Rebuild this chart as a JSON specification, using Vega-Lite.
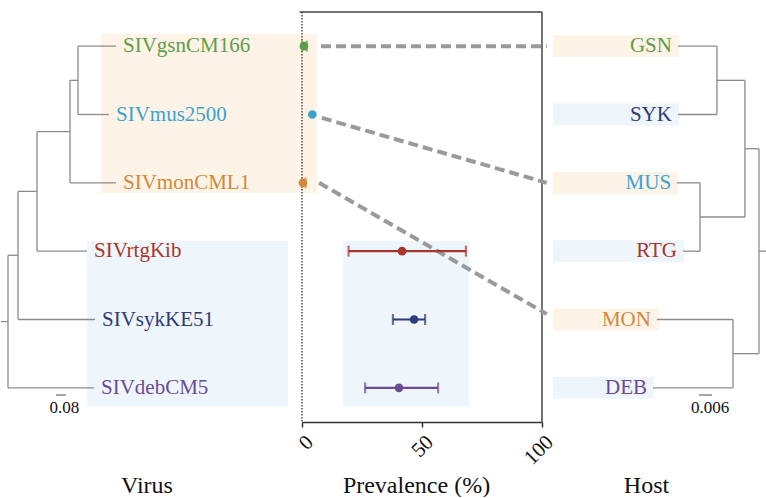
{
  "$schema": "https://vega.github.io/schema/vega-lite/v6.json",
  "padding": {"left": 0, "top": 11, "right": 0, "bottom": 0},
  "spacing": 0,
  "bounds": "flush",
  "config": {
    "view": {"stroke": null},
    "text": {"font": "Liberation Serif"},
    "axis": {"grid": false, "labelFont": "Liberation Serif", "titleFont": "Liberation Serif", "titleFontWeight": "normal", "titleFontSize": 24, "titleColor": "#111", "labelColor": "#111", "titleBaseline": "alphabetic", "titleY": 70, "titleAlign": "center"}
  },
  "datasets": {
    "virus": [
      {"name": "SIVgsnCM166", "host": "GSN", "y": 0, "x": 0.92},
      {"name": "SIVmus2500", "host": "MUS", "y": 1, "x": 0.864},
      {"name": "SIVmonCML1", "host": "MON", "y": 2, "x": 0.92},
      {"name": "SIVrtgKib", "host": "RTG", "y": 3, "x": 0.688},
      {"name": "SIVsykKE51", "host": "SYK", "y": 4, "x": 0.752},
      {"name": "SIVdebCM5", "host": "DEB", "y": 5, "x": 0.744}
    ],
    "leftTree": [
      {"x": 0, "x2": 0.056, "y": 4.03, "y2": 4.03},
      {"x": 0.056, "x2": 0.056, "y": 3.06, "y2": 5},
      {"x": 0.056, "x2": 0.744, "y": 5, "y2": 5},
      {"x": 0.056, "x2": 0.136, "y": 3.06, "y2": 3.06},
      {"x": 0.136, "x2": 0.136, "y": 2.125, "y2": 4},
      {"x": 0.136, "x2": 0.752, "y": 4, "y2": 4},
      {"x": 0.136, "x2": 0.288, "y": 2.125, "y2": 2.125},
      {"x": 0.288, "x2": 0.288, "y": 1.25, "y2": 3},
      {"x": 0.288, "x2": 0.688, "y": 3, "y2": 3},
      {"x": 0.288, "x2": 0.552, "y": 1.25, "y2": 1.25},
      {"x": 0.552, "x2": 0.552, "y": 0.5, "y2": 2},
      {"x": 0.552, "x2": 0.92, "y": 2, "y2": 2},
      {"x": 0.552, "x2": 0.616, "y": 0.5, "y2": 0.5},
      {"x": 0.616, "x2": 0.616, "y": 0, "y2": 1},
      {"x": 0.616, "x2": 0.92, "y": 0, "y2": 0},
      {"x": 0.616, "x2": 0.864, "y": 1, "y2": 1}
    ],
    "leftRects": [
      {"x": 0.8, "x2": 2.408, "y": -0.18, "y2": 2.15, "group": "A"},
      {"x": 0.688, "x2": 2.296, "y": 2.85, "y2": 5.27, "group": "B"}
    ],
    "leftScale": [{"x": 0.44, "x2": 0.52, "y": 5.105, "label": "0.08", "lx": 0.507, "ly": 5.3}],
    "prev": [
      {"host": "GSN", "y": 0, "p": 0.8, "lo": 0, "hi": 2},
      {"host": "MUS", "y": 1, "p": 4.3, "lo": null, "hi": null},
      {"host": "MON", "y": 2, "p": 0.4, "lo": 0, "hi": 1.5},
      {"host": "RTG", "y": 3, "p": 41.7, "lo": 19.4, "hi": 68.3},
      {"host": "SYK", "y": 4, "p": 46.7, "lo": 37.9, "hi": 51.3},
      {"host": "DEB", "y": 5, "p": 40.4, "lo": 26.3, "hi": 56.7}
    ],
    "midRects": [
      {"x": 0, "x2": 6.25, "y": -0.18, "y2": 2.15, "group": "A"},
      {"x": 17.1, "x2": 69.6, "y": 2.85, "y2": 5.27, "group": "B"}
    ],
    "frame": [
      {"x": -1, "x2": 100, "y": -0.5, "y2": -0.5},
      {"x": 100, "x2": 100, "y": -0.5, "y2": 5.5}
    ],
    "zeroLine": [{"x": 0, "y": -0.5, "y2": 5.5}],
    "links": [
      {"x": 7.9, "x2": 102, "y": 0, "y2": 0},
      {"x": 8.3, "x2": 102, "y": 1.05, "y2": 2},
      {"x": 7.1, "x2": 102, "y": 2, "y2": 3.92}
    ],
    "hosts": [
      {"host": "GSN", "y": 0, "x": 0.0411},
      {"host": "SYK", "y": 1, "x": 0.0411},
      {"host": "MUS", "y": 2, "x": 0.0415},
      {"host": "RTG", "y": 3, "x": 0.0388},
      {"host": "MON", "y": 4, "x": 0.0508},
      {"host": "DEB", "y": 5, "x": 0.0526}
    ],
    "hostRects": [
      {"group": "A", "x": 0.0988, "x2": 0.0406, "y": -0.16, "y2": 0.16},
      {"group": "B", "x": 0.0988, "x2": 0.0406, "y": 0.84, "y2": 1.16},
      {"group": "A", "x": 0.0988, "x2": 0.0411, "y": 1.84, "y2": 2.16},
      {"group": "B", "x": 0.0988, "x2": 0.0383, "y": 2.84, "y2": 3.16},
      {"group": "A", "x": 0.0988, "x2": 0.0499, "y": 3.84, "y2": 4.16},
      {"group": "B", "x": 0.0988, "x2": 0.0522, "y": 4.84, "y2": 5.16}
    ],
    "rightTree": [
      {"x": 0, "x2": 0.0037, "y": 3, "y2": 3},
      {"x": 0.0037, "x2": 0.0037, "y": 1.5, "y2": 4.5},
      {"x": 0.0037, "x2": 0.0102, "y": 1.5, "y2": 1.5},
      {"x": 0.0102, "x2": 0.0102, "y": 0.5, "y2": 2.5},
      {"x": 0.0102, "x2": 0.0231, "y": 0.5, "y2": 0.5},
      {"x": 0.0231, "x2": 0.0231, "y": 0, "y2": 1},
      {"x": 0.0231, "x2": 0.0411, "y": 0, "y2": 0},
      {"x": 0.0231, "x2": 0.0411, "y": 1, "y2": 1},
      {"x": 0.0102, "x2": 0.0309, "y": 2.5, "y2": 2.5},
      {"x": 0.0309, "x2": 0.0309, "y": 2, "y2": 3},
      {"x": 0.0309, "x2": 0.0415, "y": 2, "y2": 2},
      {"x": 0.0309, "x2": 0.0388, "y": 3, "y2": 3},
      {"x": 0.0037, "x2": 0.0157, "y": 4.5, "y2": 4.5},
      {"x": 0.0157, "x2": 0.0157, "y": 4, "y2": 5},
      {"x": 0.0157, "x2": 0.0508, "y": 4, "y2": 4},
      {"x": 0.0157, "x2": 0.0526, "y": 5, "y2": 5}
    ],
    "rightScale": [{"x": 0.0254, "x2": 0.0314, "y": 5.105, "label": "0.006", "lx": 0.0263, "ly": 5.3}]
  },
  "hconcat": [
    {
      "width": 301,
      "height": 410,
      "layer": [
        {
          "data": {"name": "leftRects"},
          "mark": {"type": "rect"},
          "encoding": {
            "x": {"field": "x", "type": "quantitative", "title": "Virus", "scale": {"domain": [0, 2.408], "nice": false, "zero": false}, "axis": {"title": "Virus", "domain": false, "ticks": false, "labels": false, "titleX": 145.5}},
            "x2": {"field": "x2"},
            "y": {"field": "y", "type": "quantitative", "scale": {"domain": [-0.5, 5.5], "reverse": true, "nice": false, "zero": false}, "axis": null},
            "y2": {"field": "y2"},
            "fill": {"field": "group", "type": "nominal", "scale": {"domain": ["A", "B"], "range": ["#fdf3e7", "#eef5fb"]}, "legend": null}
          }
        },
        {
          "data": {"name": "leftTree"},
          "mark": {"type": "rule", "color": "#8c8c8c", "strokeWidth": 1.3},
          "encoding": {
            "x": {"field": "x", "type": "quantitative", "title": "Virus"},
            "x2": {"field": "x2"},
            "y": {"field": "y", "type": "quantitative", "axis": null},
            "y2": {"field": "y2"}
          }
        },
        {
          "data": {"name": "virus"},
          "mark": {"type": "text", "align": "left", "baseline": "middle", "dx": 7, "fontSize": 21},
          "encoding": {
            "x": {"field": "x", "type": "quantitative", "title": "Virus"},
            "y": {"field": "y", "type": "quantitative", "axis": null},
            "text": {"field": "name"},
            "color": {"field": "host", "type": "nominal", "scale": {"domain": ["GSN", "MUS", "MON", "RTG", "SYK", "DEB"], "range": ["#5f9e48", "#3ba3cf", "#d08a3c", "#a6362b", "#2e3b78", "#6c4a94"]}, "legend": null}
          }
        },
        {
          "data": {"name": "leftScale"},
          "mark": {"type": "rule", "color": "#777", "strokeWidth": 1.3},
          "encoding": {
            "x": {"field": "x", "type": "quantitative", "title": "Virus"},
            "x2": {"field": "x2"},
            "y": {"field": "y", "type": "quantitative", "axis": null}
          }
        },
        {
          "data": {"name": "leftScale"},
          "mark": {"type": "text", "align": "center", "baseline": "middle", "fontSize": 17, "color": "#111"},
          "encoding": {
            "x": {"field": "lx", "type": "quantitative", "title": "Virus"},
            "y": {"field": "ly", "type": "quantitative", "axis": null},
            "text": {"field": "label"}
          }
        }
      ]
    },
    {
      "width": 240,
      "height": 410,
      "layer": [
        {
          "data": {"name": "midRects"},
          "mark": {"type": "rect"},
          "encoding": {
            "x": {"field": "x", "type": "quantitative", "title": "Prevalence (%)", "scale": {"domain": [0, 100], "nice": false, "zero": false}, "axis": {"title": "Prevalence (%)", "values": [0, 50, 100], "labelAngle": -45, "labelFontSize": 21, "labelPadding": 4, "domainColor": "#333", "domainWidth": 1.5, "tickColor": "#333", "tickWidth": 1.5, "tickSize": 5, "titleX": 114}},
            "x2": {"field": "x2"},
            "y": {"field": "y", "type": "quantitative", "scale": {"domain": [-0.5, 5.5], "reverse": true, "nice": false, "zero": false}, "axis": null},
            "y2": {"field": "y2"},
            "fill": {"field": "group", "type": "nominal", "scale": {"domain": ["A", "B"], "range": ["#fdf3e7", "#eef5fb"]}, "legend": null}
          }
        },
        {
          "data": {"name": "zeroLine"},
          "mark": {"type": "rule", "color": "#222", "strokeWidth": 1.2, "strokeDash": [1.5, 1.5]},
          "encoding": {
            "x": {"field": "x", "type": "quantitative", "title": "Prevalence (%)"},
            "y": {"field": "y", "type": "quantitative", "axis": null},
            "y2": {"field": "y2"}
          }
        },
        {
          "data": {"name": "frame"},
          "mark": {"type": "rule", "color": "#444", "strokeWidth": 1.5},
          "encoding": {
            "x": {"field": "x", "type": "quantitative", "title": "Prevalence (%)"},
            "x2": {"field": "x2"},
            "y": {"field": "y", "type": "quantitative", "axis": null},
            "y2": {"field": "y2"}
          }
        },
        {
          "data": {"name": "links"},
          "mark": {"type": "rule", "color": "#9a9a9a", "strokeWidth": 4, "strokeDash": [10, 5]},
          "encoding": {
            "x": {"field": "x", "type": "quantitative", "title": "Prevalence (%)"},
            "x2": {"field": "x2"},
            "y": {"field": "y", "type": "quantitative", "axis": null},
            "y2": {"field": "y2"}
          }
        },
        {
          "data": {"name": "prev"},
          "transform": [{"filter": "datum.lo != null"}],
          "mark": {"type": "rule", "strokeWidth": 2.2},
          "encoding": {
            "x": {"field": "lo", "type": "quantitative", "title": "Prevalence (%)"},
            "x2": {"field": "hi"},
            "y": {"field": "y", "type": "quantitative", "axis": null},
            "color": {"field": "host", "type": "nominal", "scale": {"domain": ["GSN", "MUS", "MON", "RTG", "SYK", "DEB"], "range": ["#5f9e48", "#6db8dc", "#d4923f", "#a83c2c", "#2c3d7c", "#6d3f8a"]}, "legend": null}
          }
        },
        {
          "data": {"name": "prev"},
          "transform": [{"filter": "datum.lo != null"}],
          "mark": {"type": "tick", "orient": "vertical", "thickness": 2.2, "size": 11},
          "encoding": {
            "x": {"field": "lo", "type": "quantitative", "title": "Prevalence (%)"},
            "y": {"field": "y", "type": "quantitative", "axis": null},
            "color": {"field": "host", "type": "nominal", "legend": null}
          }
        },
        {
          "data": {"name": "prev"},
          "transform": [{"filter": "datum.lo != null"}],
          "mark": {"type": "tick", "orient": "vertical", "thickness": 2.2, "size": 11},
          "encoding": {
            "x": {"field": "hi", "type": "quantitative", "title": "Prevalence (%)"},
            "y": {"field": "y", "type": "quantitative", "axis": null},
            "color": {"field": "host", "type": "nominal", "legend": null}
          }
        },
        {
          "data": {"name": "prev"},
          "mark": {"type": "circle", "size": 75, "opacity": 1},
          "encoding": {
            "x": {"field": "p", "type": "quantitative", "title": "Prevalence (%)"},
            "y": {"field": "y", "type": "quantitative", "axis": null},
            "color": {"field": "host", "type": "nominal", "legend": null}
          }
        }
      ]
    },
    {
      "width": 225,
      "height": 410,
      "layer": [
        {
          "data": {"name": "hostRects"},
          "mark": {"type": "rect"},
          "encoding": {
            "x": {"field": "x", "type": "quantitative", "title": "Host", "scale": {"domain": [0, 0.10385], "reverse": true, "nice": false, "zero": false}, "axis": {"title": "Host", "domain": false, "ticks": false, "labels": false, "titleX": 104}},
            "x2": {"field": "x2"},
            "y": {"field": "y", "type": "quantitative", "scale": {"domain": [-0.5, 5.5], "reverse": true, "nice": false, "zero": false}, "axis": null},
            "y2": {"field": "y2"},
            "fill": {"field": "group", "type": "nominal", "scale": {"domain": ["A", "B"], "range": ["#fdf3e7", "#eef5fb"]}, "legend": null}
          }
        },
        {
          "data": {"name": "rightTree"},
          "mark": {"type": "rule", "color": "#8c8c8c", "strokeWidth": 1.3},
          "encoding": {
            "x": {"field": "x", "type": "quantitative", "title": "Host"},
            "x2": {"field": "x2"},
            "y": {"field": "y", "type": "quantitative", "axis": null},
            "y2": {"field": "y2"}
          }
        },
        {
          "data": {"name": "hosts"},
          "mark": {"type": "text", "align": "right", "baseline": "middle", "dx": -6, "fontSize": 21},
          "encoding": {
            "x": {"field": "x", "type": "quantitative", "title": "Host"},
            "y": {"field": "y", "type": "quantitative", "axis": null},
            "text": {"field": "host"},
            "color": {"field": "host", "type": "nominal", "scale": {"domain": ["GSN", "MUS", "MON", "RTG", "SYK", "DEB"], "range": ["#5f9e48", "#3ba3cf", "#d08a3c", "#a6362b", "#2e3b78", "#6c4a94"]}, "legend": null}
          }
        },
        {
          "data": {"name": "rightScale"},
          "mark": {"type": "rule", "color": "#777", "strokeWidth": 1.3},
          "encoding": {
            "x": {"field": "x", "type": "quantitative", "title": "Host"},
            "x2": {"field": "x2"},
            "y": {"field": "y", "type": "quantitative", "axis": null}
          }
        },
        {
          "data": {"name": "rightScale"},
          "mark": {"type": "text", "align": "center", "baseline": "middle", "fontSize": 17, "color": "#111"},
          "encoding": {
            "x": {"field": "lx", "type": "quantitative", "title": "Host"},
            "y": {"field": "ly", "type": "quantitative", "axis": null},
            "text": {"field": "label"}
          }
        }
      ]
    }
  ]
}
